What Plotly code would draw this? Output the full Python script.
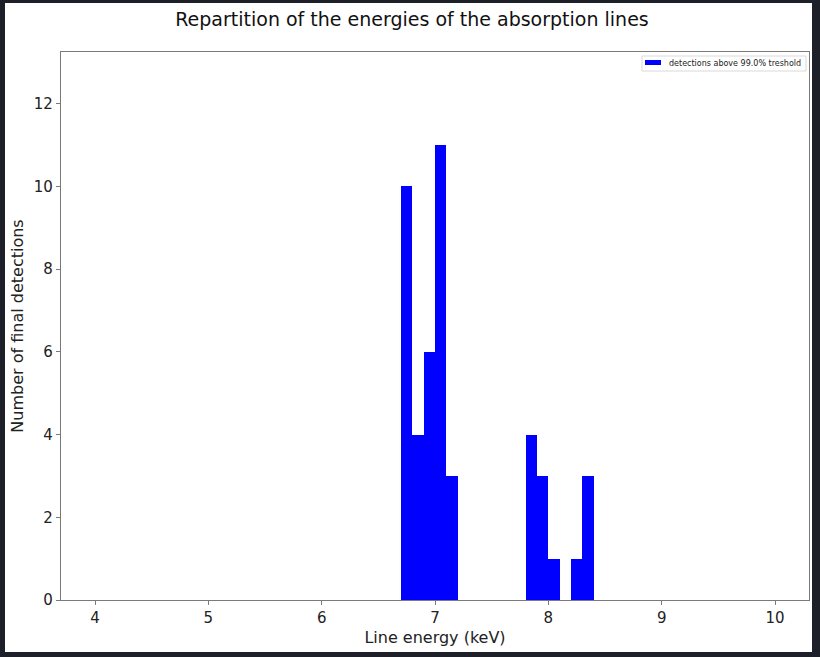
import plotly.graph_objects as go

# Histogram of absorption-line energies: bin edges (keV) and counts per bin
bin_edges = [6.7, 6.8, 6.9, 7.0, 7.1, 7.2, 7.8, 7.9, 8.0, 8.1, 8.2, 8.3, 8.4]
counts = [10, 4, 6, 11, 3, None, 4, 3, 1, 0, 1, 3]
x_ticks = [4, 5, 6, 7, 8, 9, 10]
y_ticks = [0, 2, 4, 6, 8, 10, 12]
series_name = "detections above 99.0% treshold"

centers, widths, heights = [], [], []
for lo, hi, c in zip(bin_edges[:-1], bin_edges[1:], counts):
    if c is None or c == 0:
        continue
    centers.append((lo + hi) / 2)
    widths.append(hi - lo)
    heights.append(c)

W, H = 820, 657
L, R, T, B = 61, 809, 52, 600  # plot area in pixels

def px_x(p):
    return (p - L) / (R - L)

def px_y(p):
    return (B - p) / (B - T)

fig = go.Figure()
fig.add_trace(go.Bar(
    x=centers, y=heights, width=widths,
    marker=dict(color="#0000ff", line=dict(width=0)),
    name=series_name, showlegend=False,
))

font = "DejaVu Sans, Verdana, sans-serif"
axis_col = "#7a7a7a"
text_col = "#222222"

shapes = [
    # white figure canvas
    dict(type="rect", xref="paper", yref="paper",
         x0=px_x(5), x1=px_x(812), y0=px_y(652), y1=px_y(3),
         fillcolor="white", line=dict(width=0), layer="below"),
    # compact legend frame and its colour patch
    dict(type="rect", xref="paper", yref="paper",
         x0=px_x(642), x1=px_x(806), y0=px_y(71), y1=px_y(56),
         fillcolor="white", line=dict(color="#d9d9d9", width=1), layer="above"),
    dict(type="rect", xref="paper", yref="paper",
         x0=px_x(645), x1=px_x(661), y0=px_y(65), y1=px_y(60),
         fillcolor="#0000ff", line=dict(width=0), layer="above"),
]

annotations = [
    dict(text=series_name, xref="paper", yref="paper",
         x=px_x(667), y=px_y(63.5), xanchor="left", yanchor="middle",
         showarrow=False, font=dict(size=8, family=font, color=text_col)),
]

fig.update_layout(
    width=W, height=H,
    margin=dict(l=L, r=W - R, t=T, b=H - B, pad=0),
    paper_bgcolor="#1d2029",
    plot_bgcolor="white",
    font=dict(family=font, color=text_col, size=15),
    title=dict(text="Repartition of the energies of the absorption lines",
               x=(412) / W, xref="container", xanchor="center",
               y=1 - 19 / H, yref="container", yanchor="middle",
               font=dict(size=19, family=font, color="#111111")),
    bargap=0,
    showlegend=False,
    shapes=shapes,
    annotations=annotations,
)

fig.update_xaxes(
    range=[3.7, 10.3], tickvals=x_ticks, ticktext=[str(v) for v in x_ticks],
    ticks="outside", ticklen=4, tickcolor=axis_col, tickwidth=1,
    showline=True, linecolor=axis_col, linewidth=1.3, mirror=True,
    showgrid=False, zeroline=False,
    tickfont=dict(size=15, family=font, color=text_col),
    title=dict(text="Line energy (keV)", standoff=5,
               font=dict(size=16, family=font, color=text_col)),
)
fig.update_yaxes(
    range=[0, 13.25], tickvals=y_ticks, ticktext=[str(v) for v in y_ticks],
    ticks="outside", ticklen=4, tickcolor=axis_col, tickwidth=1,
    showline=True, linecolor=axis_col, linewidth=1.3, mirror=True,
    showgrid=False, zeroline=False,
    tickfont=dict(size=15, family=font, color=text_col),
    title=dict(text="Number of final detections", standoff=6,
               font=dict(size=16, family=font, color=text_col)),
)

fig.write_html("out.html")
